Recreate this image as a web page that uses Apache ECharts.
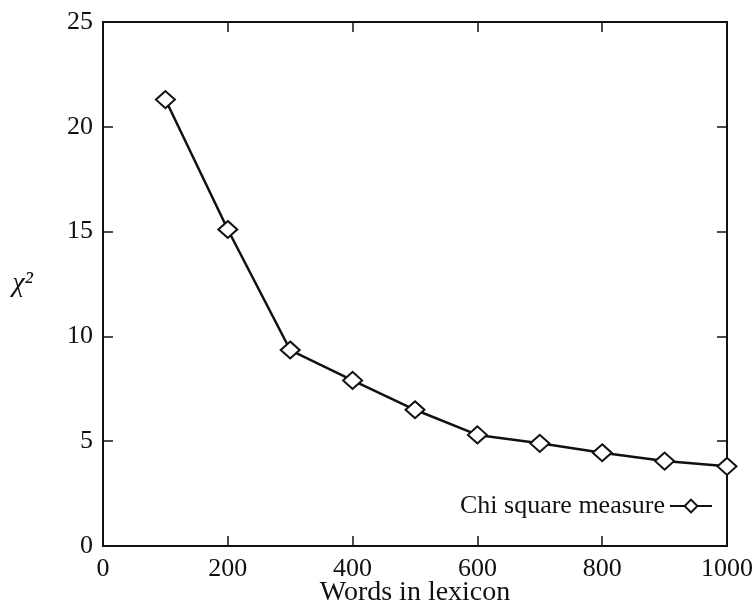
<!DOCTYPE html>
<html>
<head>
<meta charset="utf-8">
<script src="https://cdn.jsdelivr.net/npm/echarts@6/dist/echarts.min.js"></script>
<style>
  html, body { margin: 0; padding: 0; background: #fff; }
  #chart { width: 753px; height: 604px; }
</style>
</head>
<body>
<div id="chart"></div>
<script>
// 词典大小与卡方值
var words = [100, 200, 300, 400, 500, 600, 700, 800, 900, 1000];
var chiSquare = [21.3, 15.1, 9.35, 7.9, 6.5, 5.3, 4.9, 4.45, 4.05, 3.8];
var seriesName = 'Chi square measure';

var font = 'Liberation Serif';
var points = words.map(function (w, i) { return [w, chiSquare[i]]; });

var tickStyle = { show: true, inside: true, length: 10, lineStyle: { color: '#111', width: 1.5 } };
var lineStyle = { show: true, onZero: false, lineStyle: { color: '#111', width: 2 } };

echarts.init(document.getElementById('chart')).setOption({
    animation: false,
    grid: { left: 103, right: 26, top: 22, bottom: 58, outerBoundsMode: 'none', containLabel: false },
    legend: {
        data: [seriesName],
        right: 35,
        top: 488,
        align: 'right',
        itemWidth: 42,
        itemHeight: 16,
        itemGap: 4,
        textStyle: { fontFamily: font, fontSize: 26, color: '#111' }
    },
    xAxis: [
        {
            type: 'value',
            min: 0, max: 1000, interval: 200,
            name: 'Words in lexicon',
            nameLocation: 'middle',
            nameGap: 33,
            nameMoveOverlap: false,
            nameTextStyle: { fontFamily: font, fontSize: 28, color: '#111' },
            axisLine: lineStyle,
            axisTick: tickStyle,
            splitLine: { show: false },
            axisLabel: { fontFamily: font, fontSize: 26, color: '#111', margin: 10,
                formatter: function (v) { return String(v); } }
        },
        {
            type: 'value', position: 'top',
            min: 0, max: 1000, interval: 200,
            axisLine: lineStyle, axisTick: tickStyle,
            axisLabel: { show: false }, splitLine: { show: false }
        }
    ],
    yAxis: [
        {
            type: 'value',
            min: 0, max: 25, interval: 5,
            name: 'χ²',
            nameLocation: 'middle',
            nameRotate: 0,
            nameGap: 70,
            nameMoveOverlap: false,
            nameTextStyle: { fontFamily: font, fontSize: 28, fontStyle: 'italic', color: '#111', padding: [8, 0, 0, 0] },
            axisLine: lineStyle,
            axisTick: tickStyle,
            splitLine: { show: false },
            axisLabel: { fontFamily: font, fontSize: 26, color: '#111', margin: 10 }
        },
        {
            type: 'value', position: 'right',
            min: 0, max: 25, interval: 5,
            axisLine: lineStyle, axisTick: tickStyle,
            axisLabel: { show: false }, splitLine: { show: false }
        }
    ],
    series: [
        {
            name: seriesName,
            type: 'line',
            data: points,
            symbol: 'emptyDiamond',
            symbolSize: [19, 17],
            lineStyle: { color: '#111', width: 2.5 },
            itemStyle: { color: '#111', borderWidth: 1.5 }
        }
    ]
});
</script>
</body>
</html>
